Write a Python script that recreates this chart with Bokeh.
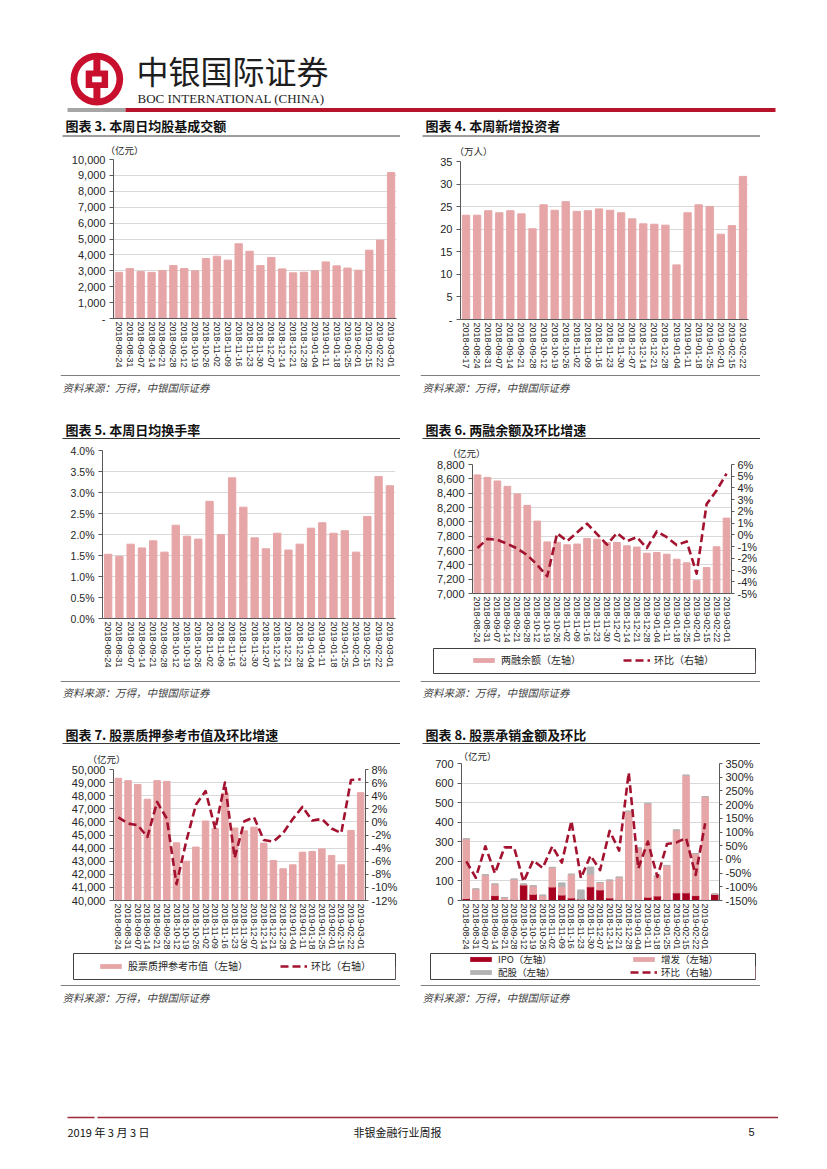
from bokeh.plotting import figure
from bokeh.models import (Range1d, FactorRange, LinearAxis, SingleIntervalTicker,
                          NumeralTickFormatter, PrintfTickFormatter, Legend, LegendItem,
                          Title, Spacer)
from bokeh.layouts import column, row
from bokeh.core.properties import value
from bokeh.embed import file_html
from bokeh.resources import INLINE

# ------------------------------------------------------------------ data
weeks = ["2018-08-24", "2018-08-31", "2018-09-07", "2018-09-14", "2018-09-21",
         "2018-09-28", "2018-10-12", "2018-10-19", "2018-10-26", "2018-11-02",
         "2018-11-09", "2018-11-16", "2018-11-23", "2018-11-30", "2018-12-07",
         "2018-12-14", "2018-12-21", "2018-12-28", "2019-01-04", "2019-01-11",
         "2019-01-18", "2019-01-25", "2019-02-01", "2019-02-15", "2019-02-22",
         "2019-03-01"]
weeks_investors = ["2018-08-17"] + weeks[:-1]
weeks_underwriting = weeks + [" "]

# 图表3 本周日均股基成交额 (亿元)
daily_turnover = [2900, 3140, 2950, 2900, 3020, 3330, 3140, 3000, 3770, 3920,
                  3670, 4700, 4230, 3330, 3840, 3120, 2870, 2910, 3000, 3560,
                  3310, 3170, 3040, 4300, 4930, 9180]
# 图表4 本周新增投资者 (万人)
new_investors = [23.1, 23.1, 24.1, 23.65, 24.1, 23.4, 20.1, 25.4, 24.2, 26.1,
                 23.95, 24.1, 24.5, 24.2, 23.65, 22.3, 21.2, 21.1, 20.9, 12.1,
                 23.65, 25.4, 25.05, 18.9, 20.8, 31.7]
# 图表5 本周日均换手率 (%)
turnover_rate = [1.53, 1.48, 1.77, 1.68, 1.85, 1.58, 2.22, 1.96, 1.89, 2.79,
                 2.00, 3.35, 2.65, 1.92, 1.66, 2.03, 1.63, 1.77, 2.15, 2.28,
                 2.03, 2.09, 1.58, 2.43, 3.38, 3.16]
# 图表6 两融余额 (亿元) / 环比 (%)
margin_balance = [8655, 8620, 8570, 8495, 8390, 8230, 8010, 7720, 7715, 7680,
                  7690, 7768, 7758, 7710, 7712, 7665, 7648, 7562, 7572, 7548,
                  7478, 7428, 7180, 7362, 7652, 8052]
margin_wow = [-1.12, -0.34, -0.43, -0.76, -1.17, -1.73, -2.56, -3.53, 0.13, -0.54,
              0.2, 0.96, 0.07, -0.84, 0.16, -0.54, -0.2, -1.12, 0.29, -0.2,
              -0.87, -0.56, -3.31, 2.62, 3.78, 5.22]
# 图表7 股票质押参考市值 (亿元) / 环比 (%)
pledge_value = [49330, 49150, 48860, 47730, 49150, 49090, 44400, 43000, 44080, 46070,
                45500, 48200, 45530, 45320, 45600, 44380, 43050, 42420, 42720, 43690,
                43740, 43940, 43430, 42720, 45350, 48230]
pledge_wow = [0.68, -0.25, -0.5, -2.3, 3.05, 0.5, -9.5, -3.0, 2.6, 4.7,
              -1.1, 6.0, -5.5, 0.1, 0.7, -2.75, -3.0, -1.7, 0.45, 2.3,
              0.2, 0.45, -1.0, -1.7, 6.4, 6.5]
# 图表8 股票承销金额 (亿元) / 环比 (%)
uw_ipo = [10, 0, 0, 25, 0, 5, 79, 32, 0, 69, 28, 13, 8, 70, 54, 13, 5, 2, 0, 17,
          23, 5, 39, 39, 25, 5, 32]
uw_seo = [305, 59, 131, 59, 15, 104, 5, 43, 27, 100, 44, 121, 0, 65, 38, 91, 114,
          454, 268, 479, 102, 174, 321, 601, 215, 526, 0]
uw_rights = [0, 0, 0, 0, 0, 0, 0, 0, 0, 0, 18, 0, 46, 36, 0, 0, 0, 0, 0, 0,
             0, 0, 0, 0, 0, 0, 0]
uw_wow = [-7, -67, 48, -51, 44, 44, -81, -4, -31, 48, -12, 140, -69, 14, -39, 104,
          32, 317, -33, 65, -64, 56, 62, 78, -57, 132]

title3 = "图表 3. 本周日均股基成交额"
title4 = "图表 4. 本周新增投资者"
title5 = "图表 5. 本周日均换手率"
title6 = "图表 6. 两融余额及环比增速"
title7 = "图表 7. 股票质押参考市值及环比增速"
title8 = "图表 8. 股票承销金额及环比"
source_text = "资料来源：万得，中银国际证券"

# ------------------------------------------------------------------ style
CJK = "Noto Sans CJK SC"
NUM = "Liberation Sans"
SERIF = "Liberation Serif"
PINK = "#E6A6A7"
IPO_RED = "#A8001F"
GRAY_BAR = "#B3B3B3"
LINE_RED = "#A3122E"
GRID = "#D9D9D9"
AXIS = "#595959"
TXT = "#262626"
LOGO_RED = "#C8102E"
DASH = "8 4"


def canvas(x0, x1, y0, y1):
    p = figure(width=x1 - x0, height=y1 - y0,
               x_range=Range1d(x0, x1), y_range=Range1d(y1, y0),
               x_axis_type=None, y_axis_type=None, min_border=0,
               outline_line_color=None, toolbar_location=None,
               output_backend="svg", frame_align=False)
    return p


def put_text(p, x, y, s, size, font=CJK, style="normal", color=TXT, align="left"):
    p.text(x=[x], y=[y], text=[s], text_font=value(font), text_font_size=size,
           text_font_style=style, text_color=color, text_align=align,
           text_baseline="middle")


def title_block(x0, y0, y1, text_y, line_y, s):
    p = canvas(x0, x0 + 340, y0, y1)
    put_text(p, x0 + 5, text_y, s, "13px", style="bold", color="#111111")
    p.segment(x0=[x0 + 2], y0=[line_y], x1=[x0 + 340], y1=[line_y],
              line_color="#3A3A3A", line_width=1)
    return p


def source_block(x0, y0, y1, line_y, text_y):
    p = canvas(x0, x0 + 340, y0, y1)
    p.segment(x0=[x0], y0=[line_y], x1=[x0 + 340], y1=[line_y],
              line_color="#7F7F7F", line_width=1)
    put_text(p, x0 + 2, text_y, source_text, "10.5px", style="italic", color="#3F3F3F")
    return p


def style_axis(ax, size="11px", tick=4):
    ax.axis_line_color = AXIS
    ax.major_tick_line_color = AXIS
    ax.minor_tick_line_color = None
    ax.major_tick_in = 0
    ax.major_tick_out = tick
    ax.major_label_text_font = NUM
    ax.major_label_text_font_size = size
    ax.major_label_text_color = TXT
    ax.major_label_standoff = 4


def chart(x0, y0, y1, frame, factors, ylo, yhi, yint, fmt, size="11px"):
    fx0, fx1, fy0, fy1 = frame
    p = figure(width=340, height=y1 - y0, x_range=FactorRange(factors=factors),
               y_range=Range1d(ylo, yhi), min_border_left=fx0 - x0,
               min_border_right=x0 + 340 - fx1, min_border_top=fy0 - y0,
               min_border_bottom=y1 - fy1, outline_line_color=None,
               toolbar_location=None, output_backend="svg", frame_align=False)
    p.xgrid.visible = False
    tk = SingleIntervalTicker(interval=yint, num_minor_ticks=0)
    p.yaxis.ticker = tk
    p.ygrid.ticker = tk
    p.ygrid.grid_line_color = GRID
    p.yaxis.formatter = fmt
    style_axis(p.yaxis[0], size)
    xa = p.xaxis[0]
    style_axis(xa, "9px", 0)
    xa.major_label_orientation = "vertical"
    xa.major_label_standoff = 3
    xa.major_tick_line_color = None
    return p


def right_axis(p, lo, hi, interval):
    p.extra_y_ranges = {"r": Range1d(lo, hi)}
    ax = LinearAxis(y_range_name="r",
                    ticker=SingleIntervalTicker(interval=interval, num_minor_ticks=0),
                    formatter=PrintfTickFormatter(format="%d%%"))
    style_axis(ax, "11px", 3)
    ax.major_label_standoff = 3
    p.add_layout(ax, "right")


def unit_label(p, s, offset, standoff):
    p.add_layout(Title(text=s, align="left", offset=offset, standoff=standoff,
                       vertical_align="bottom", text_font=CJK,
                       text_font_size="9.5px", text_font_style="normal",
                       text_color=TXT), "above")


def legend_block(x0, y0, y1, box):
    bx0, bx1, by0, by1 = box
    p = figure(width=340, height=y1 - y0, x_range=Range1d(0, 1), y_range=Range1d(0, 1),
               x_axis_type=None, y_axis_type=None, min_border_left=bx0 - x0,
               min_border_right=x0 + 340 - bx1, min_border_top=by0 - y0,
               min_border_bottom=y1 - by1, outline_line_color="#404040",
               outline_line_width=1, toolbar_location=None, output_backend="svg",
               frame_align=False)
    return p


def add_legend(p, items, loc, spacing, label_width=None, size="10px"):
    kw = {}
    if label_width:
        kw["label_width"] = label_width
    lg = Legend(items=items, location=loc, orientation="horizontal", padding=0, margin=0,
                spacing=spacing, border_line_color=None, background_fill_alpha=0,
                glyph_width=27, glyph_height=6, label_standoff=4, label_height=10,
                label_text_font=CJK, label_text_font_size=size,
                label_text_color=TXT, **kw)
    p.add_layout(lg)


# legend swatches: one sample each, placed outside the visible (clipped) frame
def swatch_bar(p, color):
    return p.vbar(x=[5], top=[0.5], width=0.1, fill_color=color, line_color=None)


def swatch_line(p):
    return p.line(x=[5, 6], y=[0.5, 0.5], line_color=LINE_RED, line_width=2.6,
                  line_dash=DASH)


# ------------------------------------------------------------------ header
header = canvas(8, 778, 8, 113)
header.annulus(x=[96.4], y=[78.6], inner_radius=19.6, outer_radius=26.3,
               fill_color=LOGO_RED, line_color=None)
header.rect(x=[96.4], y=[78.6], width=7, height=42, fill_color=LOGO_RED, line_color=None)
header.rect(x=[96.4], y=[78.8], width=22.4, height=17.6, fill_color=LOGO_RED, line_color=None)
header.rect(x=[96.4], y=[78.8], width=9.5, height=5.8, fill_color="white", line_color=None)
put_text(header, 136, 69, "中银国际证券", "32px", color="#1E1E1E")
put_text(header, 137, 98, "BOC INTERNATIONAL (CHINA)", "13px", font=SERIF, color="#1E1E1E")
header.quad(left=[67], right=[125], top=[107.5], bottom=[111.5], fill_color="#A6A6A6", line_color=None)
header.quad(left=[125], right=[775], top=[107.5], bottom=[111.5], fill_color="#B7132B", line_color=None)

# ------------------------------------------------------------------ row 1
t3 = title_block(60, 113, 137, 125, 135.5, title3)
c3 = chart(60, 137, 372, (113, 396, 159, 318), weeks, 0, 10000, 1000,
           NumeralTickFormatter(format="0,0"))
c3.yaxis.major_label_overrides = {0: "-"}
c3.vbar(x=weeks, top=daily_turnover, width=0.67, color=PINK)
unit_label(c3, "（亿元）", -8, 6)
s3 = source_block(60, 372, 400, 375, 387)

t4 = title_block(420, 113, 137, 125, 135.5, title4)
c4 = chart(420, 137, 372, (460, 748, 161, 319), weeks_investors, 0, 35, 5,
           NumeralTickFormatter(format="0,0"))
c4.yaxis.major_label_overrides = {0: "-"}
c4.vbar(x=weeks_investors, top=new_investors, width=0.66, color=PINK)
unit_label(c4, "（万人）", -6, 8)
s4 = source_block(420, 372, 400, 375, 387)

# ------------------------------------------------------------------ row 2
t5 = title_block(60, 400, 439, 428.5, 438, title5)
c5 = chart(60, 439, 680, (102, 395, 450, 618), weeks, 0, 4.0, 0.5,
           PrintfTickFormatter(format="%.1f%%"), size="10.5px")
c5.vbar(x=weeks, top=turnover_rate, width=0.65, color=PINK)
s5 = source_block(60, 680, 705, 681, 692)

t6 = title_block(420, 400, 439, 428.5, 438, title6)
c6 = chart(420, 439, 645, (472, 732, 464, 596), weeks, 7000, 8800, 200,
           NumeralTickFormatter(format="0,0"))
c6.vbar(x=weeks, top=margin_balance, width=0.67, color=PINK)
right_axis(c6, -5, 6, 1)
c6.line(x=weeks, y=margin_wow, y_range_name="r", line_color=LINE_RED,
        line_width=2.6, line_dash=DASH, line_join="round")
unit_label(c6, "（亿元）", -25, 9)
l6 = legend_block(420, 645, 678, (433, 755, 648, 673))
add_legend(l6, [LegendItem(label=value("两融余额（左轴）"), renderers=[swatch_bar(l6, PINK)]),
                LegendItem(label=value("环比（右轴）"), renderers=[swatch_line(l6)])],
           (37, 6), 42)
s6 = source_block(420, 678, 705, 681, 692)

# ------------------------------------------------------------------ row 3
t7 = title_block(60, 705, 744, 733.5, 743, title7)
c7 = chart(60, 744, 952, (113, 365, 769, 901), weeks, 40000, 50000, 1000,
           NumeralTickFormatter(format="0,0"))
c7.vbar(x=weeks, top=pledge_value, width=0.67, color=PINK)
right_axis(c7, -12, 8, 2)
c7.line(x=weeks, y=pledge_wow, y_range_name="r", line_color=LINE_RED,
        line_width=2.6, line_dash=DASH, line_join="round")
unit_label(c7, "（亿元）", -26, 8)
l7 = legend_block(60, 952, 982, (73, 395, 953, 979))
add_legend(l7, [LegendItem(label=value("股票质押参考市值（左轴）"), renderers=[swatch_bar(l7, PINK)]),
                LegendItem(label=value("环比（右轴）"), renderers=[swatch_line(l7)])],
           (24, 6), 32)
s7 = source_block(60, 982, 1008, 985, 997)

t8 = title_block(420, 705, 744, 733.5, 743, title8)
c8 = chart(420, 744, 952, (461, 719, 763, 902), weeks_underwriting, 0, 700, 100,
           NumeralTickFormatter(format="0,0"))
c8.vbar_stack(["ipo", "seo", "rights"], x="x", width=0.68,
              color=[IPO_RED, PINK, GRAY_BAR],
              source=dict(x=weeks_underwriting, ipo=uw_ipo, seo=uw_seo, rights=uw_rights))
right_axis(c8, -150, 350, 50)
c8.line(x=weeks, y=uw_wow, y_range_name="r", line_color=LINE_RED,
        line_width=2.6, line_dash=DASH, line_join="round")
unit_label(c8, "（亿元）", -3, 2)
l8 = legend_block(420, 952, 982, (430, 755, 953, 979))
add_legend(l8, [LegendItem(label=value("IPO（左轴）"), renderers=[swatch_bar(l8, IPO_RED)]),
                LegendItem(label=value("增发（左轴）"), renderers=[swatch_bar(l8, PINK)])],
           (37, 13), 32, label_width=100, size="9.5px")
add_legend(l8, [LegendItem(label=value("配股（左轴）"), renderers=[swatch_bar(l8, GRAY_BAR)]),
                LegendItem(label=value("环比（右轴）"), renderers=[swatch_line(l8)])],
           (37, 0), 32, label_width=100, size="9.5px")
s8 = source_block(420, 982, 1008, 985, 997)

# ------------------------------------------------------------------ footer
footer = canvas(8, 778, 1105, 1145)
footer.segment(x0=[67, 97], y0=[1117, 1117], x1=[94, 778], y1=[1117, 1117],
               line_color="#9E2A3A", line_width=1.5)
put_text(footer, 67, 1131, "2019 年 3 月 3 日", "11px", color="#111111")
put_text(footer, 397, 1131, "非银金融行业周报", "11px", color="#111111", align="center")
put_text(footer, 751, 1131, "5", "11px", font=NUM, color="#111111", align="center")

# ------------------------------------------------------------------ layout
r1 = row(Spacer(width=52, height=287), column(t3, c3, s3),
         Spacer(width=20, height=287), column(t4, c4, s4))
r2 = row(Spacer(width=52, height=305), column(t5, c5, s5),
         Spacer(width=20, height=305), column(t6, c6, l6, s6))
r3 = row(Spacer(width=52, height=303), column(t7, c7, l7, s7),
         Spacer(width=20, height=303), column(t8, c8, l8, s8))
body = column(Spacer(width=770, height=8), header, r1, r2, r3,
              Spacer(width=770, height=97), footer)
page = row(Spacer(width=8, height=1145), body)

open("out.html", "w").write(file_html(page, INLINE))
